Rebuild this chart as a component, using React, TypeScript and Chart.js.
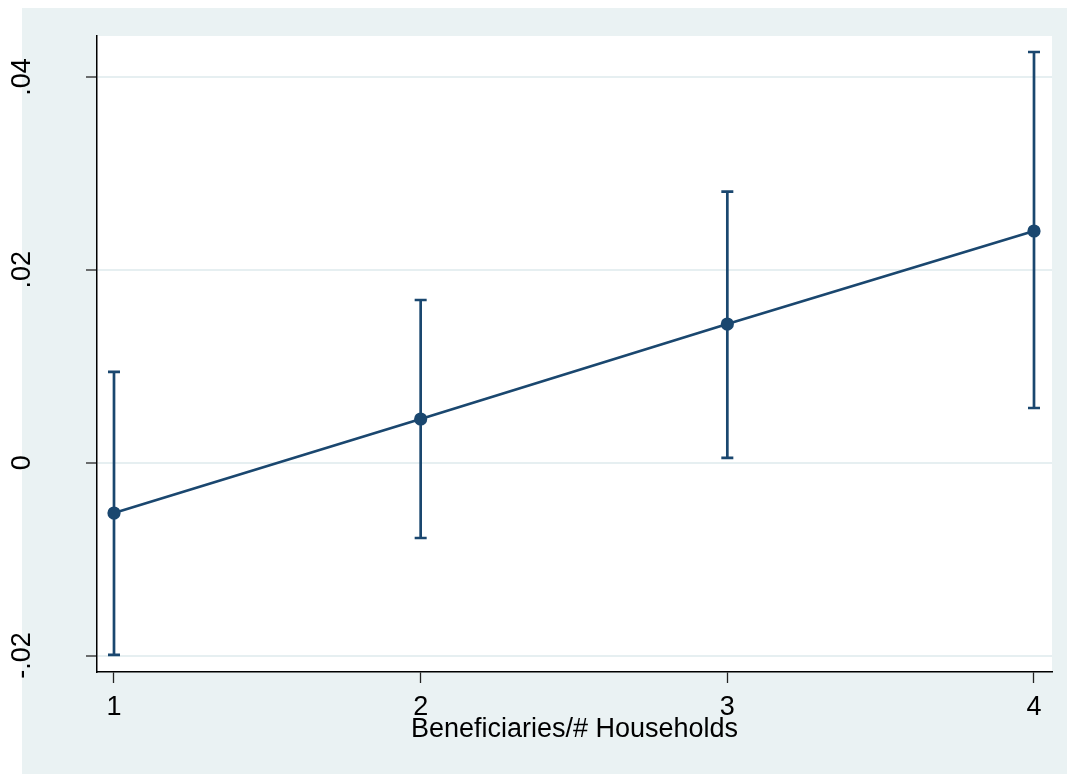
import React, { useEffect, useRef } from 'react';
import { Chart, registerables } from 'chart.js';

Chart.register(...registerables);

// ---- data ----
const categories = [1, 2, 3, 4];
const estimates = [-0.00522, 0.00453, 0.01438, 0.02403];
const upperCI = [0.00941, 0.01687, 0.02812, 0.04259];
const lowerCI = [-0.01994, -0.00781, 0.00049, 0.00567];
const xTickValues = [1, 2, 3, 4];
const xTickLabels = ['1', '2', '3', '4'];
const yTickValues = [-0.02, 0, 0.02, 0.04];
const yTickLabels = ['-.02', '0', '.02', '.04'];
const xTitle = 'Beneficiaries/# Households';

const NAVY = '#1A476F';
const OUTER_BG = '#EAF2F3';
const GRID = '#E6EFF1';
const FONT = "'Liberation Sans', Arial, Helvetica, sans-serif";
const FONT_SIZE = 27;

const backgroundPlugin = {
  id: 'stataBackground',
  beforeDraw(chart: any) {
    const { ctx, chartArea } = chart;
    ctx.save();
    ctx.fillStyle = '#FFFFFF';
    ctx.fillRect(0, 0, chart.width, chart.height);
    ctx.fillStyle = OUTER_BG;
    ctx.fillRect(22, 8, chart.width - 22, chart.height - 8);
    ctx.fillStyle = '#FFFFFF';
    ctx.fillRect(chartArea.left, chartArea.top, chartArea.right - chartArea.left, chartArea.bottom - chartArea.top);
    ctx.restore();
  },
};

const errorBarPlugin = {
  id: 'errorBars',
  beforeDatasetsDraw(chart: any) {
    const { ctx } = chart;
    const xs = chart.scales.x;
    const ys = chart.scales.y;
    ctx.save();
    ctx.strokeStyle = NAVY;
    ctx.lineWidth = 2.7;
    ctx.lineCap = 'butt';
    categories.forEach((c, i) => {
      const px = xs.getPixelForValue(c);
      const top = ys.getPixelForValue(upperCI[i]);
      const bot = ys.getPixelForValue(lowerCI[i]);
      ctx.beginPath();
      ctx.moveTo(px, top);
      ctx.lineTo(px, bot);
      ctx.stroke();
      ctx.beginPath();
      ctx.moveTo(px - 6, top);
      ctx.lineTo(px + 6, top);
      ctx.moveTo(px - 6, bot);
      ctx.lineTo(px + 6, bot);
      ctx.stroke();
    });
    ctx.restore();
  },
};

export default function App() {
  const canvasRef = useRef<HTMLCanvasElement | null>(null);

  useEffect(() => {
    if (!canvasRef.current) return;
    const chart = new Chart(canvasRef.current, {
      type: 'line',
      data: {
        datasets: [
          {
            data: categories.map((c, i) => ({ x: c, y: estimates[i] })),
            borderColor: NAVY,
            backgroundColor: NAVY,
            borderWidth: 2.7,
            pointRadius: 6.6,
            pointBorderWidth: 0,
            pointBackgroundColor: NAVY,
            tension: 0,
            fill: false,
          },
        ],
      },
      options: {
        responsive: false,
        animation: false,
        layout: { padding: { top: 36, right: 15, left: 0, bottom: 0 } },
        plugins: {
          legend: { display: false },
          tooltip: { enabled: false },
        },
        scales: {
          x: {
            type: 'linear',
            min: 0.94457,
            max: 4.0587,
            afterBuildTicks: (scale: any) => {
              scale.ticks = xTickValues.map((v) => ({ value: v }));
            },
            afterFit: (scale: any) => {
              scale.height = 102;
              scale.paddingLeft = 0;
              scale.paddingRight = 0;
            },
            ticks: {
              callback: (v: any) => {
                const i = xTickValues.indexOf(Number(v));
                return i >= 0 ? xTickLabels[i] : '';
              },
              font: { family: FONT, size: FONT_SIZE },
              color: '#000',
              padding: 8,
              maxRotation: 0,
              minRotation: 0,
            },
            grid: {
              drawOnChartArea: false,
              drawTicks: true,
              tickLength: 11,
              tickColor: '#222',
              tickWidth: 1.3,
            },
            border: { display: true, color: '#000', width: 1.5 },
            title: {
              display: true,
              text: xTitle,
              font: { family: FONT, size: FONT_SIZE },
              color: '#000',
              padding: { top: 0, bottom: 28 },
            },
          },
          y: {
            type: 'linear',
            min: -0.021706,
            max: 0.04425,
            afterBuildTicks: (scale: any) => {
              scale.ticks = yTickValues.map((v) => ({ value: v }));
            },
            afterFit: (scale: any) => {
              scale.width = 97;
              scale.paddingTop = 0;
              scale.paddingBottom = 0;
            },
            ticks: {
              callback: (v: any) => {
                const i = yTickValues.findIndex((t) => Math.abs(t - Number(v)) < 1e-9);
                return i >= 0 ? yTickLabels[i] : '';
              },
              font: { family: FONT, size: FONT_SIZE },
              color: '#000',
              minRotation: 90,
              maxRotation: 90,
              crossAlign: 'center',
              padding: 40,
            },
            grid: {
              color: GRID,
              lineWidth: 2,
              drawTicks: true,
              tickLength: 11,
              tickColor: '#222',
              tickWidth: 1.3,
            },
            border: { display: true, color: '#000', width: 1.5 },
          },
        },
      },
      plugins: [backgroundPlugin, errorBarPlugin],
    } as any);
    return () => chart.destroy();
  }, []);

  return (
    <div style={{ position: 'fixed', left: 0, top: 0, width: 1067, height: 774 }}>
      <canvas ref={canvasRef} width={1067} height={774} style={{ display: 'block' }} />
    </div>
  );
}
